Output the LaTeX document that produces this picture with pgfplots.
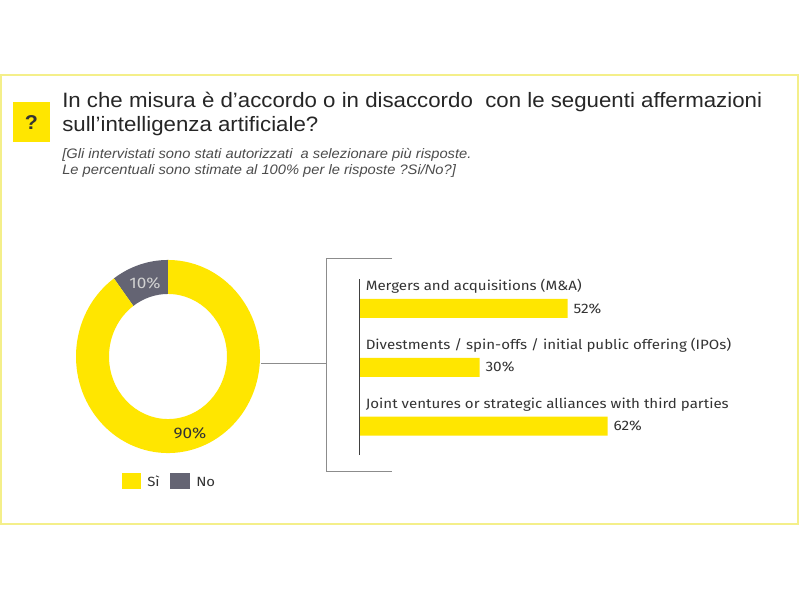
\documentclass[border=0pt]{standalone}
\usepackage{pgfplots}
\pgfplotsset{compat=1.18}
\usepackage{pgfplotstable}
\usepackage{fontspec}
\setmainfont{Fira Sans}[FakeStretch=1.12]
\newfontfamily\titlefont{Liberation Sans}[FakeStretch=1.07]
\newfontfamily\subfont{Liberation Sans}[FakeStretch=1.07]
\definecolor{eyyellow}{HTML}{FFE600}
\definecolor{eygray}{HTML}{646473}
\definecolor{bordery}{HTML}{F4EF8A}
\definecolor{txtdark}{HTML}{333333}
\pgfkeys{/pgf/number format/assume math mode=true}

\pgfplotstableread{
label value
Si 90
No 10
}\donutdata

\pgfplotstableread{
pos value
0 52
1 30
2 62
}\bardata

\begin{document}
\begin{tikzpicture}[x=0.75pt,y=-0.75pt]
\path[fill=white,use as bounding box] (0,0) rectangle (800,600);
\coordinate (donutc) at (168,356.5);
\coordinate (barnw) at (359.5,279);
% frame
\draw[bordery,line width=1.2pt] (1,75) rectangle (798,524);
% question box
\fill[eyyellow] (13,102) rectangle (50,142);
\node[font=\titlefont\bfseries\fontsize{15}{15}\selectfont,text=txtdark] at (31.5,123) {?};
% title
\node[anchor=base west,inner sep=0pt,font=\titlefont\fontsize{15.6}{18}\selectfont,text=black!85] at (62,107) {In che misura è d’accordo o in disaccordo\ \ con le seguenti affermazioni};
\node[anchor=base west,inner sep=0pt,font=\titlefont\fontsize{15.6}{18}\selectfont,text=black!85] at (62,131) {sull’intelligenza artificiale?};
\node[anchor=base west,inner sep=0pt,font=\subfont\itshape\fontsize{10.3}{12}\selectfont,text=black!70] at (62,158) {[Gli intervistati sono stati autorizzati\ \ a selezionare più risposte.};
\node[anchor=base west,inner sep=0pt,font=\subfont\itshape\fontsize{10.3}{12}\selectfont,text=black!70] at (62,174) {Le percentuali sono stimate al 100\% per le risposte ?Si/No?]};

% donut
\pgfplotstablegetelem{0}{value}\of\donutdata \let\vsi\pgfplotsretval
\pgfplotstablegetelem{1}{value}\of\donutdata \let\vno\pgfplotsretval
\pgfmathsetmacro{\aA}{90}
\pgfmathsetmacro{\aB}{90+3.6*\vno}
\pgfmathsetmacro{\aC}{\aB+3.6*\vsi}
\begin{axis}[at={(donutc)},anchor=center,scale only axis,width=138pt,height=144.75pt,
  xmin=-1,xmax=1,ymin=-1,ymax=1,hide axis,clip=false]
\fill[eygray] ([shift={({69pt*cos(\aA)},{72.4pt*sin(\aA)})}]axis cs:0,0) arc[start angle=\aA,end angle=\aB,x radius=69pt,y radius=72.4pt]
  -- ([shift={({44.25pt*cos(\aB)},{46.9pt*sin(\aB)})}]axis cs:0,0) arc[start angle=\aB,end angle=\aA,x radius=44.25pt,y radius=46.9pt] -- cycle;
\fill[eyyellow] ([shift={({69pt*cos(\aB)},{72.4pt*sin(\aB)})}]axis cs:0,0) arc[start angle=\aB,end angle=\aC,x radius=69pt,y radius=72.4pt]
  -- ([shift={({44.25pt*cos(\aC)},{46.9pt*sin(\aC)})}]axis cs:0,0) arc[start angle=\aC,end angle=\aB,x radius=44.25pt,y radius=46.9pt] -- cycle;
\end{axis}
\node[font=\fontsize{11.5}{11.5}\selectfont,text=white!82!black] at (145,283) {\vno\%};
\node[font=\fontsize{11.5}{11.5}\selectfont,text=txtdark] at (190,433) {\vsi\%};
% legend
\fill[eyyellow] (122,473) rectangle (141,489);
\node[anchor=base west,inner sep=0pt,font=\fontsize{10}{10}\selectfont,text=txtdark] at (147,486) {Sì};
\fill[eygray] (170,473) rectangle (190,489);
\node[anchor=base west,inner sep=0pt,font=\fontsize{10}{10}\selectfont,text=txtdark] at (196,486) {No};

% connector and bracket
\draw[black!45,line width=0.75pt] (261,363) -- (326,363);
\draw[black!45,line width=0.75pt] (392,258) -- (326,258) -- (326,471) -- (392,471);

% bars
\begin{axis}[at={(barnw)},anchor=north west,scale only axis,width=300pt,height=132pt,
  xmin=0,xmax=100,ymin=-0.5,ymax=2.49,y dir=reverse,hide axis,clip=false,
  xbar,bar width=14.25pt,
  nodes near coords={\pgfmathprintnumber{\pgfplotspointmeta}\%},point meta=x,
  nodes near coords align=horizontal,
  every node near coord/.append style={font=\fontsize{10.3}{10}\selectfont,text=txtdark,xshift=1pt}]
\addplot[fill=eyyellow,draw=none] table[x=value,y=pos] {\bardata};
\draw[black!75,line width=0.75pt] (rel axis cs:0,0) -- (rel axis cs:0,1);
\node[anchor=base west,inner sep=0pt,font=\fontsize{10.1}{10}\selectfont,text=txtdark] at ([xshift=4.5pt,yshift=13.1pt]axis cs:0,0) {Mergers and acquisitions (M\&A)};
\node[anchor=base west,inner sep=0pt,font=\fontsize{10.1}{10}\selectfont,text=txtdark] at ([xshift=4.5pt,yshift=13.1pt]axis cs:0,1) {Divestments / spin-offs / initial public offering (IPOs)};
\node[anchor=base west,inner sep=0pt,font=\fontsize{10.1}{10}\selectfont,text=txtdark] at ([xshift=4.5pt,yshift=13.1pt]axis cs:0,2) {Joint ventures or strategic alliances with third parties};
\end{axis}
\end{tikzpicture}
\end{document}
